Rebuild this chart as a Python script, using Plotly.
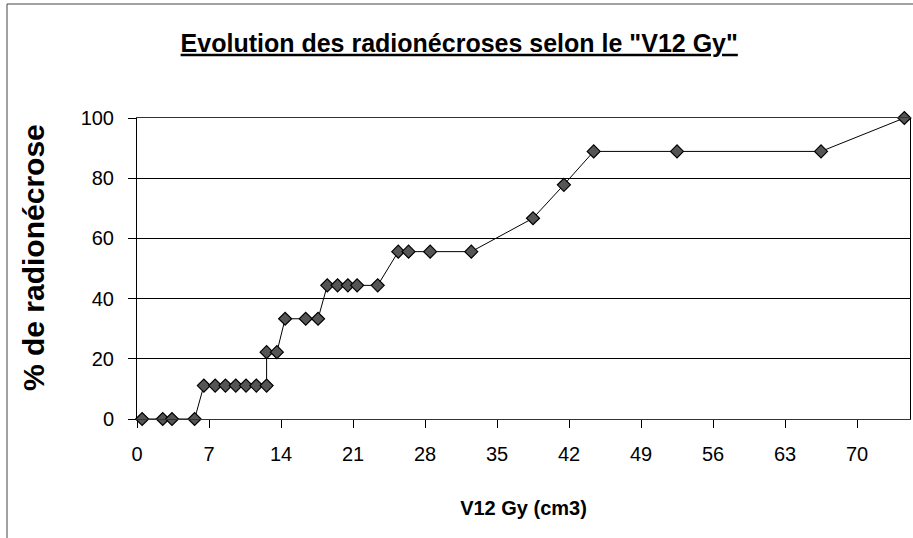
import plotly.graph_objects as go

# Data
v12 = [0.5, 2.5, 3.4, 5.6, 6.5, 7.6, 8.6, 9.6, 10.6, 11.6, 12.6, 12.6, 13.6,
       14.4, 16.4, 17.6, 18.5, 19.5, 20.5, 21.4, 23.4, 25.4, 26.4, 28.5, 32.5,
       38.5, 41.5, 44.4, 52.5, 66.5, 74.6]
pct = [0, 0, 0, 0, 11.1, 11.1, 11.1, 11.1, 11.1, 11.1, 11.1, 22.2, 22.2,
       33.3, 33.3, 33.3, 44.4, 44.4, 44.4, 44.4, 44.4, 55.6, 55.6, 55.6, 55.6,
       66.7, 77.8, 88.9, 88.9, 88.9, 100]
x_ticks = [0, 7, 14, 21, 28, 35, 42, 49, 56, 63, 70]
y_ticks = [0, 20, 40, 60, 80, 100]

W, H = 913, 538
ML, MR, MT, MB = 137, 3, 118, 119
PW, PH = W - ML - MR, H - MT - MB

fig = go.Figure()
fig.add_trace(go.Scatter(
    x=v12, y=pct, mode="lines+markers",
    line=dict(color="black", width=1),
    marker=dict(symbol="diamond", size=10, color="#555555",
                line=dict(color="black", width=1.2)),
    cliponaxis=False, showlegend=False))

font_fam = "Liberation Sans, Arial, sans-serif"

fig.update_layout(
    width=W, height=H,
    margin=dict(l=ML, r=MR, t=MT, b=MB),
    paper_bgcolor="white", plot_bgcolor="white",
    font=dict(family=font_fam, color="black"),
    title=dict(text='<b><u>Evolution des radionécroses selon le "V12 Gy"</u></b>',
               x=0.503, xref="container", xanchor="center",
               y=1 - 43 / H, yref="container", yanchor="middle",
               font=dict(size=25, family=font_fam, color="black")),
    xaxis=dict(range=[0, 75.15], tickmode="array", tickvals=x_ticks,
               showgrid=False, zeroline=False,
               showline=True, linecolor="#333", linewidth=1, mirror=True,
               ticks="outside", ticklen=8, tickcolor="black",
               tickfont=dict(size=20), ticklabelstandoff=9,
               title=dict(text="<b>V12 Gy (cm3)</b>", font=dict(size=20), standoff=36)),
    yaxis=dict(range=[0, 100], tickmode="array", tickvals=y_ticks,
               showgrid=True, gridcolor="black", gridwidth=1, zeroline=False,
               showline=True, linecolor="black", linewidth=1, mirror=True,
               ticks="outside", ticklen=8, tickcolor="black",
               tickfont=dict(size=20), ticklabelstandoff=10),
    annotations=[
        dict(text="<b>% de radionécrose</b>", textangle=-90, showarrow=False,
             xref="paper", yref="paper",
             x=(33 - ML) / PW, y=(H - MB - 258) / PH,
             xanchor="center", yanchor="middle",
             font=dict(size=30, family=font_fam, color="black")),
    ],
    shapes=[
        dict(type="line", xref="paper", yref="paper",
             x0=(7 - ML) / PW, x1=(W + 5 - ML) / PW,
             y0=(H - MB - 4) / PH, y1=(H - MB - 4) / PH,
             line=dict(color="#444", width=1)),
        dict(type="line", xref="paper", yref="paper",
             x0=(7 - ML) / PW, x1=(7 - ML) / PW,
             y0=(H - MB - 4) / PH, y1=(H - MB - H - 5) / PH,
             line=dict(color="#444", width=1)),
    ],
)

fig.write_html("out.html", config={"displayModeBar": False},
               post_script="document.body.style.margin='0';")
